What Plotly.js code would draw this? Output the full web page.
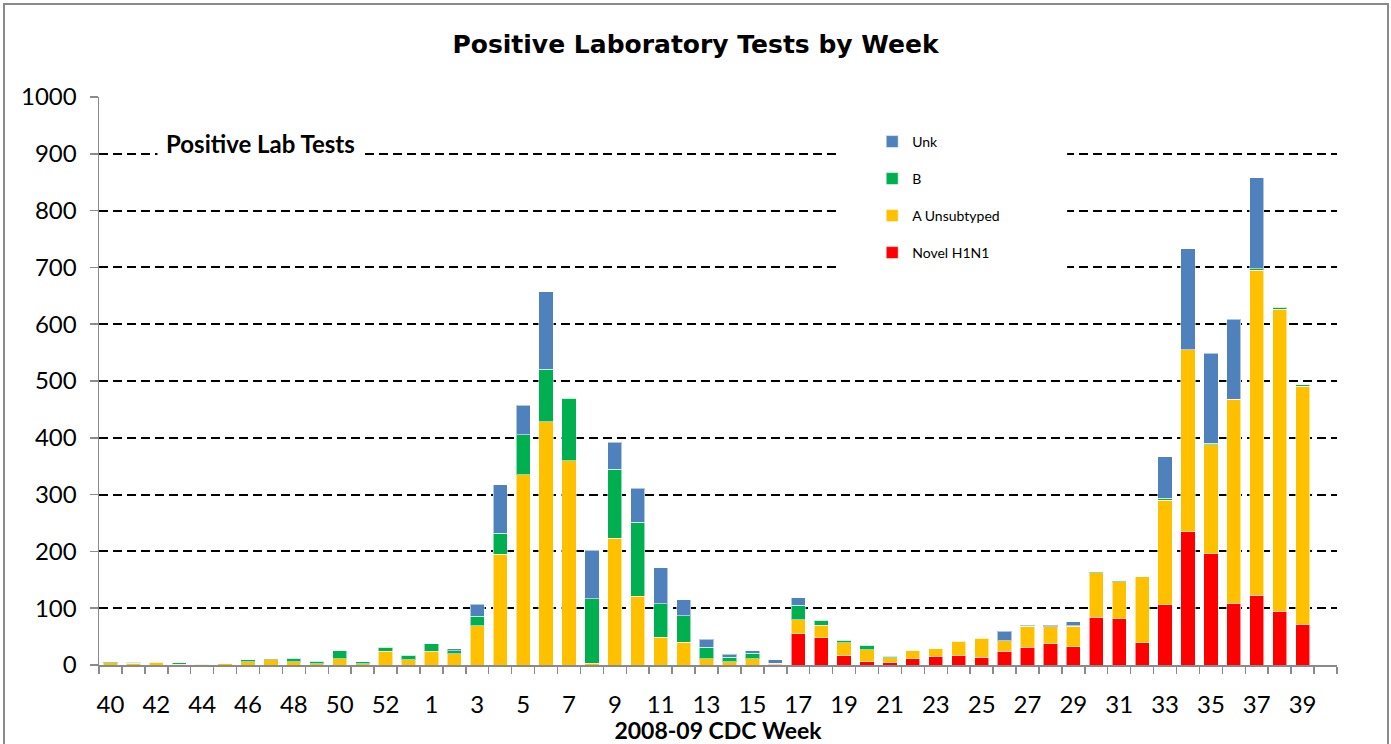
<!DOCTYPE html>
<html>
<head>
<meta charset="utf-8">
<script src="https://cdn.plot.ly/plotly-3.0.1.min.js"></script>
<style>
  html, body { margin: 0; padding: 0; background: #fff; overflow: hidden; }
  #chart { width: 1391px; height: 744px; position: absolute; left: 0; top: 0; }
  #frame { position: absolute; left: 3px; top: 3px; width: 1382px; height: 800px;
           border: 2px solid #8a8a8a; pointer-events: none; }
</style>
</head>
<body>
<div id="chart"></div>
<div id="frame"></div>
<script>
// 2008-09 CDC weeks (week 53 exists in 2008)
const weeks = ["40","41","42","43","44","45","46","47","48","49","50","51","52","53",
  "1","2","3","4","5","6","7","8","9","10","11","12","13","14","15","16","17","18","19","20",
  "21","22","23","24","25","26","27","28","29","30","31","32","33","34","35","36","37","38","39"];

const novelH1N1 = [0,0,0,0,0,0,0,0,0,0,0,0,0,0,
  0,0,0,0,0,0,0,0,0,0,0,0,0,0,0,1,55,48,16,6,
  5,11,15,16,14,24,31,37,32,84,81,39,106,235,196,109,123,95,72];

const aUnsubtyped = [4,3,5,1,1,3,6,9,6,2,11,2,24,9,
  24,20,69,195,335,428,360,3,223,121,49,40,11,6,11,2,25,22,23,21,
  8,14,14,26,33,19,37,30,36,78,66,116,184,320,192,359,572,531,419];

const bVals = [2,2,1,3,1,0,3,2,6,5,14,4,7,8,
  13,5,17,37,70,93,110,114,122,130,59,47,20,8,10,0,25,9,5,8,
  2,0,0,1,1,0,0,0,1,2,1,0,4,0,2,0,3,4,2];

const unkVals = [0,0,0,0,0,0,0,0,0,0,0,0,0,0,
  0,4,21,85,52,136,0,85,47,60,63,28,14,5,4,6,13,0,0,0,
  0,0,0,0,0,16,2,3,7,0,0,0,73,178,159,141,160,0,0];

const seriesNames = ["Novel H1N1", "A Unsubtyped", "B", "Unk"];
const seriesData = [novelH1N1, aUnsubtyped, bVals, unkVals];
const seriesColors = ["#FF0000", "#FFC000", "#00B050", "#4F81BD"];
const legendIds = ["legend4", "legend3", "legend2", "legend"];

const xIdx = weeks.map((w, i) => i);
const tickIdx = xIdx.filter(i => i % 2 === 0);
const tickTxt = tickIdx.map(i => weeks[i]);

const FONT = "Lato, 'Open Sans', sans-serif";

const traces = seriesNames.map((name, k) => ({
  type: "bar",
  name: name,
  x: xIdx,
  y: seriesData[k],
  width: 0.62,
  marker: { color: seriesColors[k], line: { color: "rgba(255,255,255,0.55)", width: 1 } },
  legend: legendIds[k],
  hoverinfo: "x+y+name"
}));

// plot area geometry (px)
const L = 98.5, R = 1337, T = 97, B = 665;
const W = 1391, H = 744;
const px2x = p => (p - L) / (R - L);
const py2y = p => (B - p) / (B - T);

function legendAt(yPix) {
  return {
    x: px2x(872), xanchor: "left",
    y: py2y(yPix), yanchor: "middle",
    bgcolor: "rgba(0,0,0,0)",
    font: { family: FONT, size: 14, color: "#000" },
    itemwidth: 30
  };
}

const layout = {
  width: W, height: H,
  paper_bgcolor: "#fff", plot_bgcolor: "#fff",
  margin: { l: L, r: W - R, t: T, b: H - B, autoexpand: false },
  barmode: "stack",
  bargap: 0.38,
  title: {
    text: "<b>Positive Laboratory Tests by Week</b>",
    font: { family: "'DejaVu Sans', Verdana, sans-serif", size: 25, color: "#000" },
    x: 0.5, xanchor: "center", xref: "container",
    y: 1 - 44 / H, yanchor: "middle", yref: "container"
  },
  showlegend: true,
  legend: legendAt(142),
  legend2: legendAt(179),
  legend3: legendAt(216),
  legend4: legendAt(253),
  xaxis: {
    range: [-0.5, 53.5],
    tickmode: "array", tickvals: tickIdx, ticktext: tickTxt,
    ticks: "", showgrid: false, zeroline: false,
    showline: true, linecolor: "#8a8a8a", linewidth: 1.5,
    tickfont: { family: FONT, size: 24, color: "#000" },
    ticklabelstandoff: 18,
    minor: { ticks: "outside", ticklen: 7, tickcolor: "#8a8a8a", tickwidth: 1.5,
             tick0: 0.5, dtick: 1, showgrid: false },
    title: { text: "<b>2008-09 CDC Week</b>", font: { family: FONT, size: 23, color: "#000" }, standoff: 0 }
  },
  yaxis: {
    range: [0, 1000], dtick: 100, tick0: 0,
    showgrid: true, gridcolor: "#000", gridwidth: 2, griddash: "9px,5px",
    zeroline: false,
    showline: true, linecolor: "#8a8a8a", linewidth: 1.5,
    ticks: "outside", ticklen: 8, tickcolor: "#8a8a8a", tickwidth: 1.5,
    tickfont: { family: FONT, size: 24, color: "#000" },
    ticklabelstandoff: 8
  },
  shapes: [
    { type: "rect", xref: "paper", yref: "paper", layer: "above",
      x0: px2x(836), x1: px2x(1067), y0: py2y(272), y1: py2y(125),
      fillcolor: "#fff", line: { width: 0 } }
  ],
  annotations: [
    { text: "<b>Positive Lab Tests</b>", xref: "paper", yref: "paper",
      x: px2x(260), y: py2y(144), xanchor: "center", yanchor: "middle",
      showarrow: false, bgcolor: "#fff", borderpad: 8,
      font: { family: FONT, size: 24, color: "#000" } }
  ]
};

Plotly.newPlot("chart", traces, layout, { displayModeBar: false, staticPlot: true });
</script>
</body>
</html>
